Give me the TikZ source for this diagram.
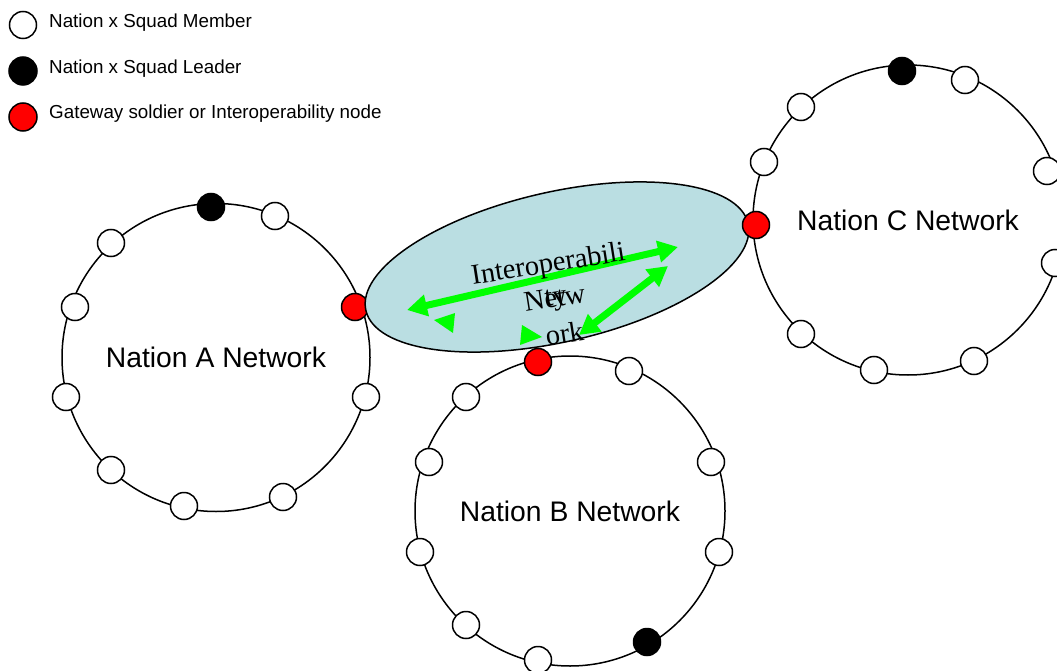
\documentclass[tikz,border=0pt]{standalone}
\usepackage{fontspec}
\setmainfont{Liberation Sans}
\newfontfamily\tnr{Liberation Serif}
\usetikzlibrary{shapes.geometric,arrows.meta}
\definecolor{gwred}{RGB}{255,0,0}
\definecolor{lgreen}{RGB}{0,255,0}
\definecolor{ifill}{RGB}{186,222,226}
\tikzset{
  net/.style={circle, draw=black, line width=1.5pt, minimum size=#1, inner sep=0pt,
              font=\fontsize{28.3}{32}\selectfont},
  member/.style={circle, draw=black, line width=1.5pt, fill=white, minimum size=27pt, inner sep=0pt},
  leader/.style={member, fill=black},
  gateway/.style={member, fill=gwred},
  legtext/.style={anchor=base west, inner sep=0pt, font=\fontsize{18.8}{21}\selectfont},
  iotext/.style={anchor=base, inner sep=0pt, rotate=9, font=\tnr\fontsize{28.5}{32}\selectfont},
  garrow/.style={draw=lgreen, line width=7pt,
     {Triangle[length=20pt,width=21pt]}-{Triangle[length=20pt,width=21pt]}},
}
\begin{document}
\begin{tikzpicture}[x=1pt,y=-1pt]
\useasboundingbox (0,0) rectangle (1057,671);
% legend
\node[member, minimum size=27pt] (lm) at (23,25) {};
\node[leader, minimum size=28pt] (ll) at (23,71) {};
\node[gateway, minimum size=28pt] (lg) at (23,117) {};
\node[legtext] (lmt) at (49,27.3) {Nation x Squad Member};
\node[legtext] (llt) at (49,73.3) {Nation x Squad Leader};
\node[legtext] (lgt) at (49,119) {Gateway soldier or Interoperability node};
% networks
\node[net=308pt] (A) at (216,357.5) {Nation A Network};
\node[net=310pt] (C) at (908,220) {Nation C Network};
\node[net=310pt] (B) at (570,511) {Nation B Network};
% nation A squad
\node[leader]  (a1) at (211,207) {};
\node[member]  (a2) at (275,216) {};
\node[member]  (a3) at (111,243) {};
\node[member]  (a4) at (75,307) {};
\node[gateway] (a5) at (355,307) {};
\node[member]  (a6) at (66,397) {};
\node[member]  (a7) at (366,397) {};
\node[member]  (a8) at (111,470) {};
\node[member]  (a9) at (184,506) {};
\node[member]  (a10) at (283,497) {};
% interoperability network
\node[ellipse, draw=black, line width=1.5pt, fill=ifill, minimum width=392pt,
      minimum height=150pt, inner sep=0pt, rotate=12.8] (io) at (557,267) {};
% nation C squad
\node[leader]  (c1) at (902,71) {};
\node[member]  (c2) at (965,80) {};
\node[member]  (c3) at (801,107) {};
\node[member]  (c4) at (764,162) {};
\node[gateway] (c5) at (756,225) {};
\node[member]  (c6) at (1047,171) {};
\node[member]  (c7) at (1055,263) {};
\node[member]  (c8) at (801,334) {};
\node[member]  (c9) at (874,370) {};
\node[member]  (c10) at (974,361) {};
% nation B squad
\node[gateway] (b1) at (538,362) {};
\node[member]  (b2) at (629,371) {};
\node[member]  (b3) at (466,397) {};
\node[member]  (b4) at (429,462) {};
\node[member]  (b5) at (711,462) {};
\node[member]  (b6) at (420,552) {};
\node[member]  (b7) at (719,552) {};
\node[member]  (b8) at (466,625) {};
\node[member]  (b9) at (538,660) {};
\node[leader]  (b10) at (647,642) {};
% green arrows
\coordinate (g1s) at (407,310);
\coordinate (g1e) at (678,247);
\coordinate (g2s) at (579,335);
\coordinate (g2e) at (668,266);
\draw[garrow] (g1s) -- (g1e);
\draw[garrow] (g2s) -- (g2e);
\fill[lgreen] (434,320) -- (455,313) -- (453,333) -- cycle;
\fill[lgreen] (522,325) -- (542,337) -- (520,345) -- cycle;
% text of the interoperability network
\node[iotext] (t1) at (549.5,272.5) {Interoperabili};
\node[iotext] (t2) at (557,305) {ty};
\node[iotext] (t3) at (556,307) {Netw};
\node[iotext] (t4) at (566,343) {ork};
\end{tikzpicture}
\end{document}
